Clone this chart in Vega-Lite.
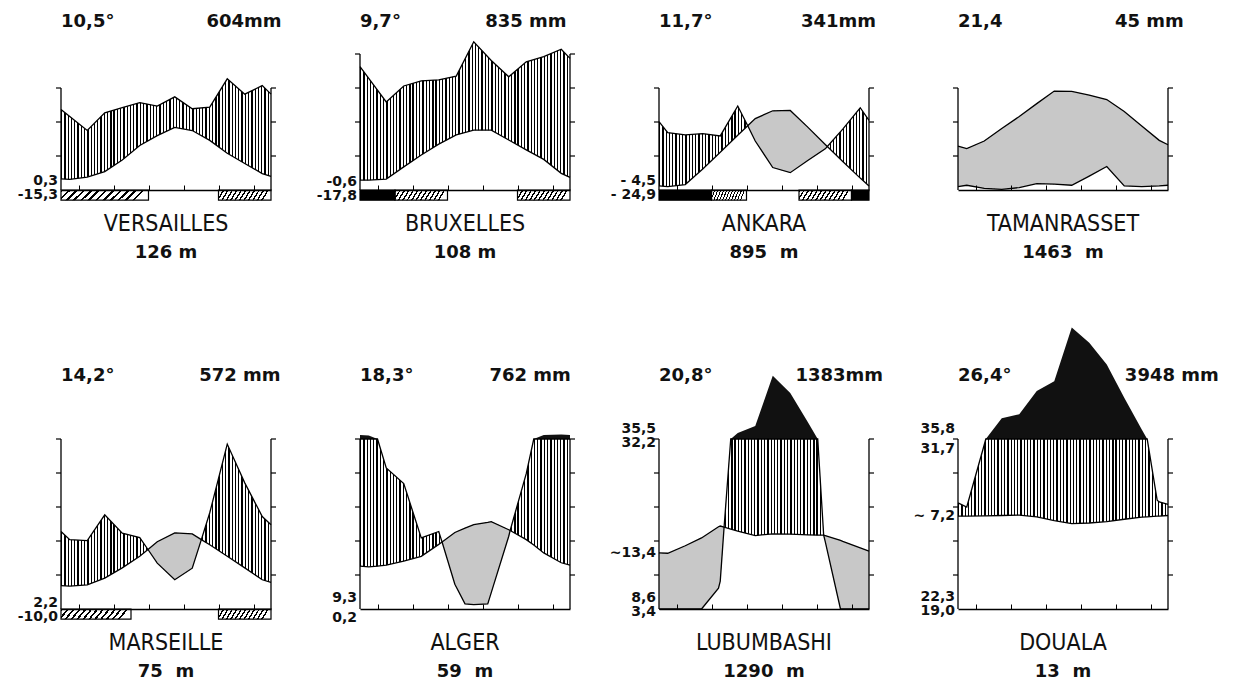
{
"$schema":"https://vega.github.io/schema/vega-lite/v6.json",
"background":"white",
"padding":{"left":17,"top":13,"right":5,"bottom":5},
"config":{"view":{"stroke":null}},
"datasets":{
"cities":[
{"c":"VERSAILLES","r":1,"n":1},{"c":"BRUXELLES","r":1,"n":2},{"c":"ANKARA","r":1,"n":3},{"c":"TAMANRASSET","r":1,"n":4},
{"c":"MARSEILLE","r":2,"n":1},{"c":"ALGER","r":2,"n":2},{"c":"LUBUMBASHI","r":2,"n":3},{"c":"DOUALA","r":2,"n":4}
],
"d":[
{"k":"i","c":"VERSAILLES","tm":"10,5°","pt":"604mm","el":"126 m","top":30,"ltop":30,"rx":12.6},
{"k":"l","c":"VERSAILLES","v":"0,3","y":2.6},
{"k":"l","c":"VERSAILLES","v":"-15,3","y":-1.6},
{"k":"f","c":"VERSAILLES","f":"h","x0":0,"x1":5},
{"k":"f","c":"VERSAILLES","f":"h","x0":9,"x1":12},
{"k":"c","c":"VERSAILLES","x":0,"t":3.3,"p":23.7},
{"k":"c","c":"VERSAILLES","x":0.5,"t":3.1,"p":21.6},
{"k":"c","c":"VERSAILLES","x":1.5,"t":3.8,"p":17.5},
{"k":"c","c":"VERSAILLES","x":2.5,"t":5.4,"p":22.7},
{"k":"c","c":"VERSAILLES","x":3.5,"t":8.8,"p":24.2},
{"k":"c","c":"VERSAILLES","x":4.5,"t":13.1,"p":25.7},
{"k":"c","c":"VERSAILLES","x":5.5,"t":16.0,"p":24.7},
{"k":"c","c":"VERSAILLES","x":6.5,"t":18.4,"p":27.4},
{"k":"c","c":"VERSAILLES","x":7.5,"t":17.5,"p":23.9},
{"k":"c","c":"VERSAILLES","x":8.5,"t":14.6,"p":24.4},
{"k":"c","c":"VERSAILLES","x":9.5,"t":10.8,"p":32.7},
{"k":"c","c":"VERSAILLES","x":10.5,"t":7.8,"p":28.2},
{"k":"c","c":"VERSAILLES","x":11.5,"t":4.8,"p":30.7},
{"k":"c","c":"VERSAILLES","x":12,"t":4.0,"p":28.2},

{"k":"i","c":"BRUXELLES","tm":"9,7°","pt":"835 mm","el":"108 m","top":40,"ltop":40,"rx":11.8},
{"k":"l","c":"BRUXELLES","v":"-0,6","y":2.4},
{"k":"l","c":"BRUXELLES","v":"-17,8","y":-1.7},
{"k":"f","c":"BRUXELLES","f":"b","x0":0,"x1":2},
{"k":"f","c":"BRUXELLES","f":"h","x0":2,"x1":5},
{"k":"f","c":"BRUXELLES","f":"h","x0":9,"x1":12},
{"k":"c","c":"BRUXELLES","x":0,"t":2.9,"p":36.3},
{"k":"c","c":"BRUXELLES","x":0.5,"t":2.9,"p":32.8},
{"k":"c","c":"BRUXELLES","x":1.5,"t":3.2,"p":25.9},
{"k":"c","c":"BRUXELLES","x":2.5,"t":6.8,"p":30.6},
{"k":"c","c":"BRUXELLES","x":3.5,"t":10.3,"p":32.1},
{"k":"c","c":"BRUXELLES","x":4.5,"t":13.5,"p":32.4},
{"k":"c","c":"BRUXELLES","x":5.5,"t":16.2,"p":33.5},
{"k":"c","c":"BRUXELLES","x":6.5,"t":17.6,"p":43.6},
{"k":"c","c":"BRUXELLES","x":7.5,"t":17.6,"p":38.1},
{"k":"c","c":"BRUXELLES","x":8.5,"t":14.7,"p":33.3},
{"k":"c","c":"BRUXELLES","x":9.5,"t":11.8,"p":37.7},
{"k":"c","c":"BRUXELLES","x":10.5,"t":9.0,"p":39.2},
{"k":"c","c":"BRUXELLES","x":11.5,"t":4.9,"p":41.4},
{"k":"c","c":"BRUXELLES","x":12,"t":3.7,"p":38.7},

{"k":"i","c":"ANKARA","tm":"11,7°","pt":"341mm","el":"895\u00a0 m","top":30,"ltop":30,"rx":12.4},
{"k":"l","c":"ANKARA","v":"- 4,5","y":2.6},
{"k":"l","c":"ANKARA","v":"- 24,9","y":-1.5},
{"k":"f","c":"ANKARA","f":"b","x0":0,"x1":3},
{"k":"f","c":"ANKARA","f":"h","x0":3,"x1":5},
{"k":"f","c":"ANKARA","f":"h","x0":8,"x1":11},
{"k":"f","c":"ANKARA","f":"b","x0":11,"x1":12},
{"k":"c","c":"ANKARA","x":0,"t":1.2,"p":20.1},
{"k":"c","c":"ANKARA","x":0.5,"t":1.0,"p":16.9},
{"k":"c","c":"ANKARA","x":1.5,"t":1.6,"p":16.2},
{"k":"c","c":"ANKARA","x":2.5,"t":6.2,"p":16.6},
{"k":"c","c":"ANKARA","x":3.5,"t":11.1,"p":15.9},
{"k":"c","c":"ANKARA","x":4.5,"t":16.1,"p":24.7},
{"k":"c","c":"ANKARA","x":5.07,"t":18.9,"p":18.9,"g":"1"},
{"k":"c","c":"ANKARA","x":5.5,"t":21.0,"p":14.4,"g":"1"},
{"k":"c","c":"ANKARA","x":6.5,"t":23.3,"p":6.6,"g":"1"},
{"k":"c","c":"ANKARA","x":7.5,"t":23.4,"p":5.1,"g":"1"},
{"k":"c","c":"ANKARA","x":8.5,"t":18.5,"p":8.7,"g":"1"},
{"k":"c","c":"ANKARA","x":9.5,"t":13.4,"p":12.1,"g":"1"},
{"k":"c","c":"ANKARA","x":9.62,"t":12.8,"p":12.8,"g":"1"},
{"k":"c","c":"ANKARA","x":10.5,"t":8.4,"p":17.9},
{"k":"c","c":"ANKARA","x":11.5,"t":3.5,"p":24.2},
{"k":"c","c":"ANKARA","x":12,"t":1.2,"p":20.5},

{"k":"i","c":"TAMANRASSET","tm":"21,4","pt":"45 mm","el":"1463\u00a0 m","top":30,"ltop":30,"rx":12.9},
{"k":"c","c":"TAMANRASSET","x":0,"t":12.9,"p":1.0,"g":"1"},
{"k":"c","c":"TAMANRASSET","x":0.5,"t":12.2,"p":1.4,"g":"1"},
{"k":"c","c":"TAMANRASSET","x":1.5,"t":14.4,"p":0.5,"g":"1"},
{"k":"c","c":"TAMANRASSET","x":2.5,"t":18.1,"p":0.2,"g":"1"},
{"k":"c","c":"TAMANRASSET","x":3.5,"t":21.6,"p":0.7,"g":"1"},
{"k":"c","c":"TAMANRASSET","x":4.5,"t":25.4,"p":1.9,"g":"1"},
{"k":"c","c":"TAMANRASSET","x":5.5,"t":29.1,"p":1.7,"g":"1"},
{"k":"c","c":"TAMANRASSET","x":6.5,"t":29.0,"p":1.4,"g":"1"},
{"k":"c","c":"TAMANRASSET","x":7.5,"t":27.9,"p":4.1,"g":"1"},
{"k":"c","c":"TAMANRASSET","x":8.5,"t":26.6,"p":6.9,"g":"1"},
{"k":"c","c":"TAMANRASSET","x":9.5,"t":23.1,"p":1.2,"g":"1"},
{"k":"c","c":"TAMANRASSET","x":10.5,"t":18.8,"p":1.0,"g":"1"},
{"k":"c","c":"TAMANRASSET","x":11.5,"t":14.6,"p":1.2,"g":"1"},
{"k":"c","c":"TAMANRASSET","x":12,"t":13.3,"p":1.4,"g":"1"},

{"k":"i","c":"MARSEILLE","tm":"14,2°","pt":"572 mm","el":"75\u00a0 m","top":50,"ltop":50,"rx":12.55},
{"k":"l","c":"MARSEILLE","v":"2,2","y":1.8},
{"k":"l","c":"MARSEILLE","v":"-10,0","y":-2.3},
{"k":"f","c":"MARSEILLE","f":"h","x0":0,"x1":4},
{"k":"f","c":"MARSEILLE","f":"h","x0":9,"x1":12},
{"k":"c","c":"MARSEILLE","x":0,"t":6.9,"p":22.8},
{"k":"c","c":"MARSEILLE","x":0.5,"t":6.7,"p":20.4},
{"k":"c","c":"MARSEILLE","x":1.5,"t":7.1,"p":20.1},
{"k":"c","c":"MARSEILLE","x":2.5,"t":9.1,"p":27.7},
{"k":"c","c":"MARSEILLE","x":3.5,"t":12.1,"p":22.3},
{"k":"c","c":"MARSEILLE","x":4.5,"t":15.5,"p":21.0},
{"k":"c","c":"MARSEILLE","x":4.97,"t":17.5,"p":17.5,"g":"1"},
{"k":"c","c":"MARSEILLE","x":5.5,"t":19.8,"p":13.5,"g":"1"},
{"k":"c","c":"MARSEILLE","x":6.5,"t":22.4,"p":8.6,"g":"1"},
{"k":"c","c":"MARSEILLE","x":7.5,"t":22.1,"p":12.0,"g":"1"},
{"k":"c","c":"MARSEILLE","x":8.02,"t":20.4,"p":20.4,"g":"1"},
{"k":"c","c":"MARSEILLE","x":8.5,"t":18.9,"p":28.3},
{"k":"c","c":"MARSEILLE","x":9.5,"t":15.5,"p":48.5},
{"k":"c","c":"MARSEILLE","x":10.5,"t":12.1,"p":37.1},
{"k":"c","c":"MARSEILLE","x":11.5,"t":8.6,"p":27.2},
{"k":"c","c":"MARSEILLE","x":12,"t":7.8,"p":24.8},

{"k":"i","c":"ALGER","tm":"18,3°","pt":"762 mm","el":"59\u00a0 m","top":50,"ltop":50,"rx":12.05},
{"k":"l","c":"ALGER","v":"9,3","y":3.2},
{"k":"l","c":"ALGER","v":"0,2","y":-2.6},
{"k":"c","c":"ALGER","x":0,"t":12.6,"p":50,"pb":51.2,"b":"1"},
{"k":"c","c":"ALGER","x":0.5,"t":12.4,"p":50,"pb":51.0,"b":"1"},
{"k":"c","c":"ALGER","x":1.0,"t":12.6,"p":50,"pb":50,"b":"1"},
{"k":"c","c":"ALGER","x":1.5,"t":12.9,"p":41.5},
{"k":"c","c":"ALGER","x":2.5,"t":14.1,"p":36.9},
{"k":"c","c":"ALGER","x":3.5,"t":15.5,"p":20.9},
{"k":"c","c":"ALGER","x":4.5,"t":19.0,"p":22.8},
{"k":"c","c":"ALGER","x":4.69,"t":19.7,"p":19.7,"g":"1"},
{"k":"c","c":"ALGER","x":5.42,"t":22.5,"p":7.3,"g":"1"},
{"k":"c","c":"ALGER","x":6.0,"t":23.8,"p":1.5,"g":"1"},
{"k":"c","c":"ALGER","x":6.5,"t":24.8,"p":1.3,"g":"1"},
{"k":"c","c":"ALGER","x":7.3,"t":25.5,"p":1.5,"g":"1"},
{"k":"c","c":"ALGER","x":7.5,"t":25.7,"p":4.8,"g":"1"},
{"k":"c","c":"ALGER","x":8.5,"t":23.3,"p":21.4,"g":"1"},
{"k":"c","c":"ALGER","x":8.58,"t":23.1,"p":23.1,"g":"1"},
{"k":"c","c":"ALGER","x":9.5,"t":20.4,"p":39.8},
{"k":"c","c":"ALGER","x":9.93,"t":18.8,"p":50,"pb":50,"b":"2"},
{"k":"c","c":"ALGER","x":10.5,"t":16.5,"p":50,"pb":51.2,"b":"2"},
{"k":"c","c":"ALGER","x":11.5,"t":13.6,"p":50,"pb":51.3,"b":"2"},
{"k":"c","c":"ALGER","x":12,"t":12.9,"p":50,"pb":51.2,"b":"2"},

{"k":"i","c":"LUBUMBASHI","tm":"20,8°","pt":"1383mm","el":"1290\u00a0 m","top":50,"ltop":50,"rx":12.8},
{"k":"l","c":"LUBUMBASHI","v":"35,5","y":52.9},
{"k":"l","c":"LUBUMBASHI","v":"32,2","y":48.8},
{"k":"l","c":"LUBUMBASHI","v":"~13,4","y":16.5},
{"k":"l","c":"LUBUMBASHI","v":"8,6","y":3.3},
{"k":"l","c":"LUBUMBASHI","v":"3,4","y":-0.8},
{"k":"c","c":"LUBUMBASHI","x":0,"t":16.5,"p":0,"g":"1"},
{"k":"c","c":"LUBUMBASHI","x":0.5,"t":16.4,"p":0,"g":"1"},
{"k":"c","c":"LUBUMBASHI","x":1.5,"t":18.6,"p":0,"g":"1"},
{"k":"c","c":"LUBUMBASHI","x":2.43,"t":20.9,"p":0,"g":"1"},
{"k":"c","c":"LUBUMBASHI","x":3.4,"t":24.2,"p":6.1,"g":"1"},
{"k":"c","c":"LUBUMBASHI","x":3.5,"t":24.4,"p":8.2,"g":"1"},
{"k":"c","c":"LUBUMBASHI","x":3.72,"t":24.1,"p":24.1,"g":"1"},
{"k":"c","c":"LUBUMBASHI","x":4.1,"t":23.5,"p":50,"pb":50,"b":"1"},
{"k":"c","c":"LUBUMBASHI","x":4.5,"t":22.9,"p":50,"pb":51.8,"b":"1"},
{"k":"c","c":"LUBUMBASHI","x":5.5,"t":21.6,"p":50,"pb":53.8,"b":"1"},
{"k":"c","c":"LUBUMBASHI","x":6.5,"t":22.1,"p":50,"pb":68.6,"b":"1"},
{"k":"c","c":"LUBUMBASHI","x":7.5,"t":22.0,"p":50,"pb":63.5,"b":"1"},
{"k":"c","c":"LUBUMBASHI","x":8.5,"t":21.8,"p":50,"pb":55.0,"b":"1"},
{"k":"c","c":"LUBUMBASHI","x":9.07,"t":21.7,"p":50,"pb":50,"b":"1"},
{"k":"c","c":"LUBUMBASHI","x":9.41,"t":21.7,"p":21.7,"g":"2"},
{"k":"c","c":"LUBUMBASHI","x":9.5,"t":21.6,"p":19.8,"g":"2"},
{"k":"c","c":"LUBUMBASHI","x":10.37,"t":20.2,"p":0,"g":"2"},
{"k":"c","c":"LUBUMBASHI","x":10.5,"t":19.9,"p":0,"g":"2"},
{"k":"c","c":"LUBUMBASHI","x":11.5,"t":18.0,"p":0,"g":"2"},
{"k":"c","c":"LUBUMBASHI","x":12,"t":17.0,"p":0,"g":"2"},

{"k":"i","c":"DOUALA","tm":"26,4°","pt":"3948 mm","el":"13\u00a0 m","top":50,"ltop":50,"rx":14.9},
{"k":"l","c":"DOUALA","v":"35,8","y":52.9},
{"k":"l","c":"DOUALA","v":"31,7","y":47.2},
{"k":"l","c":"DOUALA","v":"~ 7,2","y":27.3},
{"k":"l","c":"DOUALA","v":"22,3","y":3.5},
{"k":"l","c":"DOUALA","v":"19,0","y":-0.6},
{"k":"c","c":"DOUALA","x":0,"t":27.3,"p":31.2},
{"k":"c","c":"DOUALA","x":0.5,"t":27.3,"p":30.0},
{"k":"c","c":"DOUALA","x":1.5,"t":27.4,"p":48.3},
{"k":"c","c":"DOUALA","x":1.59,"t":27.4,"p":50,"pb":50,"b":"1"},
{"k":"c","c":"DOUALA","x":2.5,"t":27.5,"p":50,"pb":56.1,"b":"1"},
{"k":"c","c":"DOUALA","x":3.5,"t":27.6,"p":50,"pb":57.3,"b":"1"},
{"k":"c","c":"DOUALA","x":4.5,"t":27.1,"p":50,"pb":64.1,"b":"1"},
{"k":"c","c":"DOUALA","x":5.5,"t":26.0,"p":50,"pb":67.0,"b":"1"},
{"k":"c","c":"DOUALA","x":6.5,"t":25.1,"p":50,"pb":82.8,"b":"1"},
{"k":"c","c":"DOUALA","x":7.5,"t":25.3,"p":50,"pb":78.3,"b":"1"},
{"k":"c","c":"DOUALA","x":8.5,"t":25.7,"p":50,"pb":71.9,"b":"1"},
{"k":"c","c":"DOUALA","x":9.5,"t":26.4,"p":50,"pb":62.1,"b":"1"},
{"k":"c","c":"DOUALA","x":10.5,"t":27.0,"p":50,"pb":52.8,"b":"1"},
{"k":"c","c":"DOUALA","x":10.81,"t":27.1,"p":50,"pb":50,"b":"1"},
{"k":"c","c":"DOUALA","x":11.38,"t":27.3,"p":32.0},
{"k":"c","c":"DOUALA","x":11.5,"t":27.3,"p":31.5},
{"k":"c","c":"DOUALA","x":12,"t":27.5,"p":30.8}
]},
"data":{"name":"d"},
"transform":[{"lookup":"c","from":{"data":{"name":"cities"},"key":"c","fields":["r","n"]}}],
"facet":{
 "row":{"field":"r","type":"ordinal","header":{"labels":false,"title":null}},
 "column":{"field":"n","type":"ordinal","header":{"labels":false,"title":null}}},
"spacing":{"row":249,"column":89},
"bounds":"flush",
"resolve":{"axis":{"x":"independent"}},
"spec":{
"width":210,"height":170,
"layer":[
{"transform":[{"filter":"datum.k=='c'"}],
 "mark":{"type":"area","fill":{"gradient":"linear","x1":0,"y1":0,"x2":1,"y2":0,"stops":[
{"offset":0,"color":"#000"},{"offset":0.00625,"color":"#000"},{"offset":0.00625,"color":"#fff"},{"offset":0.015625,"color":"#fff"},
{"offset":0.015625,"color":"#000"},{"offset":0.021875,"color":"#000"},{"offset":0.021875,"color":"#fff"},{"offset":0.03125,"color":"#fff"},
{"offset":0.03125,"color":"#000"},{"offset":0.0375,"color":"#000"},{"offset":0.0375,"color":"#fff"},{"offset":0.046875,"color":"#fff"},
{"offset":0.046875,"color":"#000"},{"offset":0.053125,"color":"#000"},{"offset":0.053125,"color":"#fff"},{"offset":0.0625,"color":"#fff"},
{"offset":0.0625,"color":"#000"},{"offset":0.06875,"color":"#000"},{"offset":0.06875,"color":"#fff"},{"offset":0.078125,"color":"#fff"},
{"offset":0.078125,"color":"#000"},{"offset":0.084375,"color":"#000"},{"offset":0.084375,"color":"#fff"},{"offset":0.09375,"color":"#fff"},
{"offset":0.09375,"color":"#000"},{"offset":0.1,"color":"#000"},{"offset":0.1,"color":"#fff"},{"offset":0.109375,"color":"#fff"},
{"offset":0.109375,"color":"#000"},{"offset":0.115625,"color":"#000"},{"offset":0.115625,"color":"#fff"},{"offset":0.125,"color":"#fff"},
{"offset":0.125,"color":"#000"},{"offset":0.13125,"color":"#000"},{"offset":0.13125,"color":"#fff"},{"offset":0.140625,"color":"#fff"},
{"offset":0.140625,"color":"#000"},{"offset":0.146875,"color":"#000"},{"offset":0.146875,"color":"#fff"},{"offset":0.15625,"color":"#fff"},
{"offset":0.15625,"color":"#000"},{"offset":0.1625,"color":"#000"},{"offset":0.1625,"color":"#fff"},{"offset":0.171875,"color":"#fff"},
{"offset":0.171875,"color":"#000"},{"offset":0.178125,"color":"#000"},{"offset":0.178125,"color":"#fff"},{"offset":0.1875,"color":"#fff"},
{"offset":0.1875,"color":"#000"},{"offset":0.19375,"color":"#000"},{"offset":0.19375,"color":"#fff"},{"offset":0.203125,"color":"#fff"},
{"offset":0.203125,"color":"#000"},{"offset":0.209375,"color":"#000"},{"offset":0.209375,"color":"#fff"},{"offset":0.21875,"color":"#fff"},
{"offset":0.21875,"color":"#000"},{"offset":0.225,"color":"#000"},{"offset":0.225,"color":"#fff"},{"offset":0.234375,"color":"#fff"},
{"offset":0.234375,"color":"#000"},{"offset":0.240625,"color":"#000"},{"offset":0.240625,"color":"#fff"},{"offset":0.25,"color":"#fff"},
{"offset":0.25,"color":"#000"},{"offset":0.25625,"color":"#000"},{"offset":0.25625,"color":"#fff"},{"offset":0.265625,"color":"#fff"},
{"offset":0.265625,"color":"#000"},{"offset":0.271875,"color":"#000"},{"offset":0.271875,"color":"#fff"},{"offset":0.28125,"color":"#fff"},
{"offset":0.28125,"color":"#000"},{"offset":0.2875,"color":"#000"},{"offset":0.2875,"color":"#fff"},{"offset":0.296875,"color":"#fff"},
{"offset":0.296875,"color":"#000"},{"offset":0.303125,"color":"#000"},{"offset":0.303125,"color":"#fff"},{"offset":0.3125,"color":"#fff"},
{"offset":0.3125,"color":"#000"},{"offset":0.31875,"color":"#000"},{"offset":0.31875,"color":"#fff"},{"offset":0.328125,"color":"#fff"},
{"offset":0.328125,"color":"#000"},{"offset":0.334375,"color":"#000"},{"offset":0.334375,"color":"#fff"},{"offset":0.34375,"color":"#fff"},
{"offset":0.34375,"color":"#000"},{"offset":0.35,"color":"#000"},{"offset":0.35,"color":"#fff"},{"offset":0.359375,"color":"#fff"},
{"offset":0.359375,"color":"#000"},{"offset":0.365625,"color":"#000"},{"offset":0.365625,"color":"#fff"},{"offset":0.375,"color":"#fff"},
{"offset":0.375,"color":"#000"},{"offset":0.38125,"color":"#000"},{"offset":0.38125,"color":"#fff"},{"offset":0.390625,"color":"#fff"},
{"offset":0.390625,"color":"#000"},{"offset":0.396875,"color":"#000"},{"offset":0.396875,"color":"#fff"},{"offset":0.40625,"color":"#fff"},
{"offset":0.40625,"color":"#000"},{"offset":0.4125,"color":"#000"},{"offset":0.4125,"color":"#fff"},{"offset":0.421875,"color":"#fff"},
{"offset":0.421875,"color":"#000"},{"offset":0.428125,"color":"#000"},{"offset":0.428125,"color":"#fff"},{"offset":0.4375,"color":"#fff"},
{"offset":0.4375,"color":"#000"},{"offset":0.44375,"color":"#000"},{"offset":0.44375,"color":"#fff"},{"offset":0.453125,"color":"#fff"},
{"offset":0.453125,"color":"#000"},{"offset":0.459375,"color":"#000"},{"offset":0.459375,"color":"#fff"},{"offset":0.46875,"color":"#fff"},
{"offset":0.46875,"color":"#000"},{"offset":0.475,"color":"#000"},{"offset":0.475,"color":"#fff"},{"offset":0.484375,"color":"#fff"},
{"offset":0.484375,"color":"#000"},{"offset":0.490625,"color":"#000"},{"offset":0.490625,"color":"#fff"},{"offset":0.5,"color":"#fff"},
{"offset":0.5,"color":"#000"},{"offset":0.50625,"color":"#000"},{"offset":0.50625,"color":"#fff"},{"offset":0.515625,"color":"#fff"},
{"offset":0.515625,"color":"#000"},{"offset":0.521875,"color":"#000"},{"offset":0.521875,"color":"#fff"},{"offset":0.53125,"color":"#fff"},
{"offset":0.53125,"color":"#000"},{"offset":0.5375,"color":"#000"},{"offset":0.5375,"color":"#fff"},{"offset":0.546875,"color":"#fff"},
{"offset":0.546875,"color":"#000"},{"offset":0.553125,"color":"#000"},{"offset":0.553125,"color":"#fff"},{"offset":0.5625,"color":"#fff"},
{"offset":0.5625,"color":"#000"},{"offset":0.56875,"color":"#000"},{"offset":0.56875,"color":"#fff"},{"offset":0.578125,"color":"#fff"},
{"offset":0.578125,"color":"#000"},{"offset":0.584375,"color":"#000"},{"offset":0.584375,"color":"#fff"},{"offset":0.59375,"color":"#fff"},
{"offset":0.59375,"color":"#000"},{"offset":0.6,"color":"#000"},{"offset":0.6,"color":"#fff"},{"offset":0.609375,"color":"#fff"},
{"offset":0.609375,"color":"#000"},{"offset":0.615625,"color":"#000"},{"offset":0.615625,"color":"#fff"},{"offset":0.625,"color":"#fff"},
{"offset":0.625,"color":"#000"},{"offset":0.63125,"color":"#000"},{"offset":0.63125,"color":"#fff"},{"offset":0.640625,"color":"#fff"},
{"offset":0.640625,"color":"#000"},{"offset":0.646875,"color":"#000"},{"offset":0.646875,"color":"#fff"},{"offset":0.65625,"color":"#fff"},
{"offset":0.65625,"color":"#000"},{"offset":0.6625,"color":"#000"},{"offset":0.6625,"color":"#fff"},{"offset":0.671875,"color":"#fff"},
{"offset":0.671875,"color":"#000"},{"offset":0.678125,"color":"#000"},{"offset":0.678125,"color":"#fff"},{"offset":0.6875,"color":"#fff"},
{"offset":0.6875,"color":"#000"},{"offset":0.69375,"color":"#000"},{"offset":0.69375,"color":"#fff"},{"offset":0.703125,"color":"#fff"},
{"offset":0.703125,"color":"#000"},{"offset":0.709375,"color":"#000"},{"offset":0.709375,"color":"#fff"},{"offset":0.71875,"color":"#fff"},
{"offset":0.71875,"color":"#000"},{"offset":0.725,"color":"#000"},{"offset":0.725,"color":"#fff"},{"offset":0.734375,"color":"#fff"},
{"offset":0.734375,"color":"#000"},{"offset":0.740625,"color":"#000"},{"offset":0.740625,"color":"#fff"},{"offset":0.75,"color":"#fff"},
{"offset":0.75,"color":"#000"},{"offset":0.75625,"color":"#000"},{"offset":0.75625,"color":"#fff"},{"offset":0.765625,"color":"#fff"},
{"offset":0.765625,"color":"#000"},{"offset":0.771875,"color":"#000"},{"offset":0.771875,"color":"#fff"},{"offset":0.78125,"color":"#fff"},
{"offset":0.78125,"color":"#000"},{"offset":0.7875,"color":"#000"},{"offset":0.7875,"color":"#fff"},{"offset":0.796875,"color":"#fff"},
{"offset":0.796875,"color":"#000"},{"offset":0.803125,"color":"#000"},{"offset":0.803125,"color":"#fff"},{"offset":0.8125,"color":"#fff"},
{"offset":0.8125,"color":"#000"},{"offset":0.81875,"color":"#000"},{"offset":0.81875,"color":"#fff"},{"offset":0.828125,"color":"#fff"},
{"offset":0.828125,"color":"#000"},{"offset":0.834375,"color":"#000"},{"offset":0.834375,"color":"#fff"},{"offset":0.84375,"color":"#fff"},
{"offset":0.84375,"color":"#000"},{"offset":0.85,"color":"#000"},{"offset":0.85,"color":"#fff"},{"offset":0.859375,"color":"#fff"},
{"offset":0.859375,"color":"#000"},{"offset":0.865625,"color":"#000"},{"offset":0.865625,"color":"#fff"},{"offset":0.875,"color":"#fff"},
{"offset":0.875,"color":"#000"},{"offset":0.88125,"color":"#000"},{"offset":0.88125,"color":"#fff"},{"offset":0.890625,"color":"#fff"},
{"offset":0.890625,"color":"#000"},{"offset":0.896875,"color":"#000"},{"offset":0.896875,"color":"#fff"},{"offset":0.90625,"color":"#fff"},
{"offset":0.90625,"color":"#000"},{"offset":0.9125,"color":"#000"},{"offset":0.9125,"color":"#fff"},{"offset":0.921875,"color":"#fff"},
{"offset":0.921875,"color":"#000"},{"offset":0.928125,"color":"#000"},{"offset":0.928125,"color":"#fff"},{"offset":0.9375,"color":"#fff"},
{"offset":0.9375,"color":"#000"},{"offset":0.94375,"color":"#000"},{"offset":0.94375,"color":"#fff"},{"offset":0.953125,"color":"#fff"},
{"offset":0.953125,"color":"#000"},{"offset":0.959375,"color":"#000"},{"offset":0.959375,"color":"#fff"},{"offset":0.96875,"color":"#fff"},
{"offset":0.96875,"color":"#000"},{"offset":0.975,"color":"#000"},{"offset":0.975,"color":"#fff"},{"offset":0.984375,"color":"#fff"},
{"offset":0.984375,"color":"#000"},{"offset":0.990625,"color":"#000"},{"offset":0.990625,"color":"#fff"},{"offset":1,"color":"#fff"}
]}},
 "encoding":{
  "x":{"field":"x","type":"quantitative","scale":{"domain":[0,12],"nice":false,"zero":false},
       "axis":{"values":[1,2,3,4,5,6,7,8,9,10,11],"labels":false,"title":null,"grid":false,"tickSize":-5,"tickColor":"#000","domainColor":"#000","domainWidth":1.3,"tickWidth":1,"zindex":1}},
  "y":{"field":"p","type":"quantitative","scale":{"domain":[0,50],"nice":false,"zero":false},"axis":null},
  "y2":{"field":"t"}}},
{"transform":[{"filter":"datum.k=='c' && isValid(datum.g)"}],
 "mark":{"type":"area","fill":"#c8c8c8"},
 "encoding":{"x":{"field":"x","type":"quantitative"},"y":{"field":"t","type":"quantitative"},"y2":{"field":"p"},"detail":{"field":"g","type":"nominal"}}},
{"transform":[{"filter":"datum.k=='c' && isValid(datum.b)"}],
 "mark":{"type":"area","fill":"#111"},
 "encoding":{"x":{"field":"x","type":"quantitative"},"y":{"field":"pb","type":"quantitative"},"y2":{"datum":50},"detail":{"field":"b","type":"nominal"}}},
{"transform":[{"filter":"datum.k=='c'"}],
 "mark":{"type":"line","color":"#000","strokeWidth":1.3},
 "encoding":{"x":{"field":"x","type":"quantitative"},"y":{"field":"t","type":"quantitative"}}},
{"transform":[{"filter":"datum.k=='c'"}],
 "mark":{"type":"line","color":"#000","strokeWidth":1.3},
 "encoding":{"x":{"field":"x","type":"quantitative"},"y":{"field":"p","type":"quantitative"}}},
{"transform":[{"filter":"datum.k=='f' && datum.f=='h'"}],
 "mark":{"type":"rect","stroke":"#000","strokeWidth":1.2,"fill":{"gradient":"linear","x1":0,"y1":0,"x2":1,"y2":0.12,"stops":[
{"offset":0,"color":"#000"},{"offset":0.03,"color":"#000"},{"offset":0.03,"color":"#fff"},{"offset":0.0833,"color":"#fff"},
{"offset":0.0833,"color":"#000"},{"offset":0.1133,"color":"#000"},{"offset":0.1133,"color":"#fff"},{"offset":0.1667,"color":"#fff"},
{"offset":0.1667,"color":"#000"},{"offset":0.1967,"color":"#000"},{"offset":0.1967,"color":"#fff"},{"offset":0.25,"color":"#fff"},
{"offset":0.25,"color":"#000"},{"offset":0.28,"color":"#000"},{"offset":0.28,"color":"#fff"},{"offset":0.3333,"color":"#fff"},
{"offset":0.3333,"color":"#000"},{"offset":0.3633,"color":"#000"},{"offset":0.3633,"color":"#fff"},{"offset":0.4167,"color":"#fff"},
{"offset":0.4167,"color":"#000"},{"offset":0.4467,"color":"#000"},{"offset":0.4467,"color":"#fff"},{"offset":0.5,"color":"#fff"},
{"offset":0.5,"color":"#000"},{"offset":0.53,"color":"#000"},{"offset":0.53,"color":"#fff"},{"offset":0.5833,"color":"#fff"},
{"offset":0.5833,"color":"#000"},{"offset":0.6133,"color":"#000"},{"offset":0.6133,"color":"#fff"},{"offset":0.6667,"color":"#fff"},
{"offset":0.6667,"color":"#000"},{"offset":0.6967,"color":"#000"},{"offset":0.6967,"color":"#fff"},{"offset":0.75,"color":"#fff"},
{"offset":0.75,"color":"#000"},{"offset":0.78,"color":"#000"},{"offset":0.78,"color":"#fff"},{"offset":0.8333,"color":"#fff"},
{"offset":0.8333,"color":"#000"},{"offset":0.8633,"color":"#000"},{"offset":0.8633,"color":"#fff"},{"offset":0.9167,"color":"#fff"},
{"offset":0.9167,"color":"#000"},{"offset":0.9467,"color":"#000"},{"offset":0.9467,"color":"#fff"},{"offset":1,"color":"#fff"}
]}},
 "encoding":{"x":{"field":"x0","type":"quantitative"},"x2":{"field":"x1"},"y":{"datum":0},"y2":{"datum":-3}}},
{"transform":[{"filter":"datum.k=='f' && datum.f=='b'"}],
 "mark":{"type":"rect","fill":"#000","stroke":"#000","strokeWidth":1.2},
 "encoding":{"x":{"field":"x0","type":"quantitative"},"x2":{"field":"x1"},"y":{"datum":0},"y2":{"datum":-3}}},
{"transform":[{"filter":"datum.k=='i'"}],
 "mark":{"type":"rule","color":"#000","strokeWidth":1.3},
 "encoding":{"x":{"datum":0},"y":{"field":"ltop","type":"quantitative"},"y2":{"datum":0}}},
{"transform":[{"filter":"datum.k=='i'"}],
 "mark":{"type":"rule","color":"#000","strokeWidth":1.3},
 "encoding":{"x":{"datum":12},"y":{"field":"top","type":"quantitative"},"y2":{"datum":0}}},
{"transform":[{"filter":"datum.k=='i' && datum.ltop>=10"}],"mark":{"type":"rule","color":"#000","strokeWidth":1.2,"x2Offset":-5},"encoding":{"x":{"datum":0},"x2":{"datum":0},"y":{"datum":10}}},
{"transform":[{"filter":"datum.k=='i' && datum.ltop>=20"}],"mark":{"type":"rule","color":"#000","strokeWidth":1.2,"x2Offset":-5},"encoding":{"x":{"datum":0},"x2":{"datum":0},"y":{"datum":20}}},
{"transform":[{"filter":"datum.k=='i' && datum.ltop>=30"}],"mark":{"type":"rule","color":"#000","strokeWidth":1.2,"x2Offset":-5},"encoding":{"x":{"datum":0},"x2":{"datum":0},"y":{"datum":30}}},
{"transform":[{"filter":"datum.k=='i' && datum.ltop>=40"}],"mark":{"type":"rule","color":"#000","strokeWidth":1.2,"x2Offset":-5},"encoding":{"x":{"datum":0},"x2":{"datum":0},"y":{"datum":40}}},
{"transform":[{"filter":"datum.k=='i' && datum.ltop>=50"}],"mark":{"type":"rule","color":"#000","strokeWidth":1.2,"x2Offset":-5},"encoding":{"x":{"datum":0},"x2":{"datum":0},"y":{"datum":50}}},
{"transform":[{"filter":"datum.k=='i' && datum.top>=10"}],"mark":{"type":"rule","color":"#000","strokeWidth":1.2,"x2Offset":5},"encoding":{"x":{"datum":12},"x2":{"datum":12},"y":{"datum":10}}},
{"transform":[{"filter":"datum.k=='i' && datum.top>=20"}],"mark":{"type":"rule","color":"#000","strokeWidth":1.2,"x2Offset":5},"encoding":{"x":{"datum":12},"x2":{"datum":12},"y":{"datum":20}}},
{"transform":[{"filter":"datum.k=='i' && datum.top>=30"}],"mark":{"type":"rule","color":"#000","strokeWidth":1.2,"x2Offset":5},"encoding":{"x":{"datum":12},"x2":{"datum":12},"y":{"datum":30}}},
{"transform":[{"filter":"datum.k=='i' && datum.top>=40"}],"mark":{"type":"rule","color":"#000","strokeWidth":1.2,"x2Offset":5},"encoding":{"x":{"datum":12},"x2":{"datum":12},"y":{"datum":40}}},
{"transform":[{"filter":"datum.k=='i' && datum.top>=50"}],"mark":{"type":"rule","color":"#000","strokeWidth":1.2,"x2Offset":5},"encoding":{"x":{"datum":12},"x2":{"datum":12},"y":{"datum":50}}},
{"transform":[{"filter":"datum.k=='i' && datum.r==1"}],
 "mark":{"type":"text","align":"left","baseline":"middle","font":"DejaVu Sans","fontSize":18,"fontWeight":"bold","color":"#111"},
 "encoding":{"x":{"datum":0},"y":{"datum":49.3},"text":{"field":"tm","type":"nominal"}}},
{"transform":[{"filter":"datum.k=='i' && datum.r==2"}],
 "mark":{"type":"text","align":"left","baseline":"middle","font":"DejaVu Sans","fontSize":18,"fontWeight":"bold","color":"#111"},
 "encoding":{"x":{"datum":0},"y":{"datum":68.4},"text":{"field":"tm","type":"nominal"}}},
{"transform":[{"filter":"datum.k=='i' && datum.r==1"}],
 "mark":{"type":"text","align":"right","baseline":"middle","font":"DejaVu Sans","fontSize":18,"fontWeight":"bold","color":"#111"},
 "encoding":{"x":{"field":"rx","type":"quantitative"},"y":{"datum":49.3},"text":{"field":"pt","type":"nominal"}}},
{"transform":[{"filter":"datum.k=='i' && datum.r==2"}],
 "mark":{"type":"text","align":"right","baseline":"middle","font":"DejaVu Sans","fontSize":18,"fontWeight":"bold","color":"#111"},
 "encoding":{"x":{"field":"rx","type":"quantitative"},"y":{"datum":68.4},"text":{"field":"pt","type":"nominal"}}},
{"transform":[{"filter":"datum.k=='i'"}],
 "mark":{"type":"text","align":"center","baseline":"middle","font":"Liberation Sans Narrow, DejaVu Sans Condensed, sans-serif","fontSize":23,"color":"#111"},
 "encoding":{"x":{"datum":6},"y":{"datum":-10},"text":{"field":"c","type":"nominal"}}},
{"transform":[{"filter":"datum.k=='i'"}],
 "mark":{"type":"text","align":"center","baseline":"middle","font":"DejaVu Sans","fontSize":18,"fontWeight":"bold","color":"#111"},
 "encoding":{"x":{"datum":6},"y":{"datum":-18.5},"text":{"field":"el","type":"nominal"}}},
{"transform":[{"filter":"datum.k=='l'"}],
 "mark":{"type":"text","align":"right","baseline":"middle","dx":-3,"font":"DejaVu Sans","fontSize":14,"fontWeight":"bold","color":"#111"},
 "encoding":{"x":{"datum":0},"y":{"field":"y","type":"quantitative"},"text":{"field":"v","type":"nominal"}}}
]}
}
